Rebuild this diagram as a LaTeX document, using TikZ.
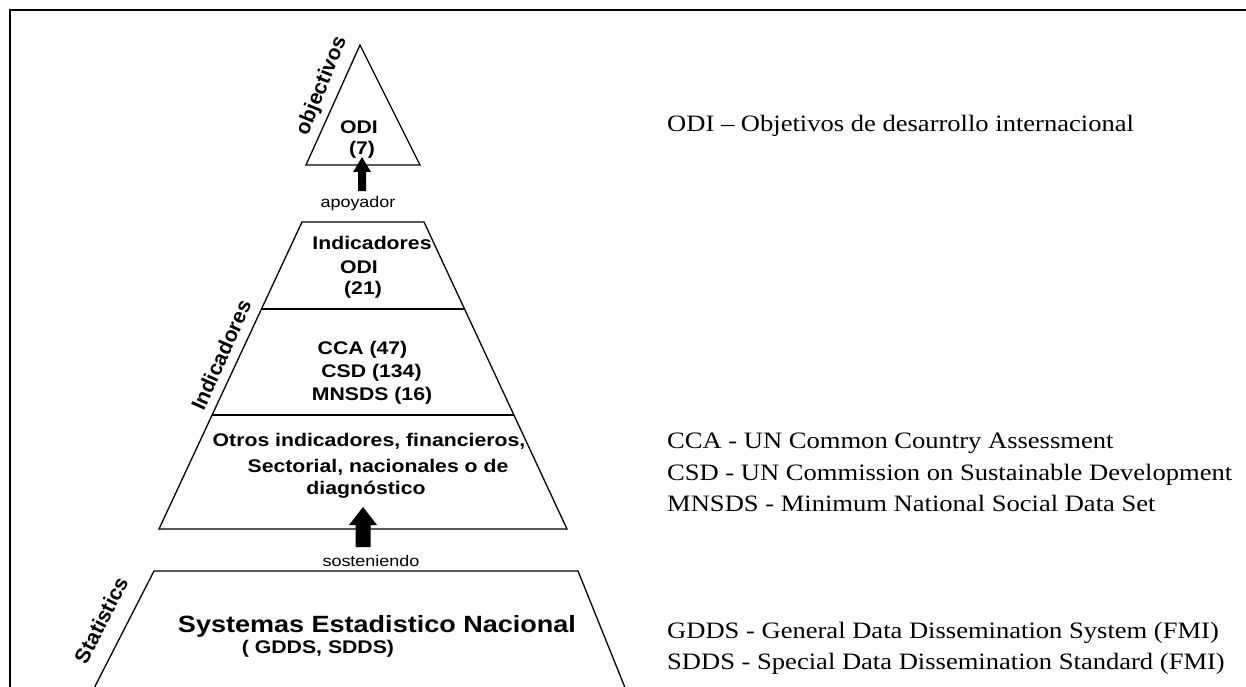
\documentclass[tikz,border=0pt]{standalone}
\usepackage{fontspec}
\setmainfont{Liberation Serif}
\setsansfont{Liberation Sans}
\usepackage{graphicx}
\usetikzlibrary{calc}
\newcommand{\sx}[1]{\scalebox{1.16}[1]{#1}}
\newcommand{\tx}[1]{\scalebox{1.13}[1]{#1}}
\begin{document}
\begin{tikzpicture}[x=1pt,y=-1pt,
  tier/.style={draw=black, line width=1.3pt, line join=miter},
  lbl/.style={font=\sffamily\bfseries\fontsize{18.3}{20}\selectfont, inner sep=0pt, anchor=base},
  big/.style={font=\sffamily\bfseries\fontsize{23.5}{26}\selectfont, inner sep=0pt, anchor=base},
  side/.style={font=\sffamily\bfseries\fontsize{21}{23}\selectfont, inner sep=0pt},
  note/.style={font=\rmfamily\fontsize{23.5}{27}\selectfont, inner sep=0pt, anchor=base west},
  small/.style={font=\sffamily\fontsize{15.5}{18}\selectfont, inner sep=0pt, anchor=base},
  blk/.style={fill=black, draw=none}]
\useasboundingbox (0,0) rectangle (1246,687);
\clip (0,0) rectangle (1246,687);
\fill[white] (0,0) rectangle (1246,687);
% frame
\draw[line width=2.6pt] (10,720) -- (10,10) -- (1270,10);
% top triangle
\coordinate (apex) at (360,45);
\coordinate (tl) at (306,165);
\coordinate (tr) at (420,165);
\draw[tier] (apex) -- (tr) -- (tl) -- cycle;
% middle trapezoid
\coordinate (m1) at (302,222);
\coordinate (m2) at (424,222);
\coordinate (m3) at (567,529);
\coordinate (m4) at (159,529);
\draw[tier] (m1) -- (m2) -- (m3) -- (m4) -- cycle;
\draw[tier] ($(m1)!0.2834!(m4)$) -- ($(m2)!0.2834!(m3)$);
\draw[tier] ($(m1)!0.6287!(m4)$) -- ($(m2)!0.6287!(m3)$);
% bottom trapezoid
\coordinate (b1) at (154,571);
\coordinate (b2) at (578,571);
\coordinate (b3) at (630,700);
\coordinate (b4) at (88,700);
\draw[tier] (b4) -- (b1) -- (b2) -- (b3);
% arrows
\coordinate (a1) at (362,157);
\fill[blk] (a1) -- ++(9,15) -- ++(-5,0) -- ++(0,19) -- ++(-8,0) -- ++(0,-19) -- ++(-5,0) -- cycle;
\coordinate (a2) at (363,507);
\fill[blk] (a2) -- ++(14,18) -- ++(-6.5,0) -- ++(0,22) -- ++(-15,0) -- ++(0,-22) -- ++(-6.5,0) -- cycle;
% labels pyramid
\node[side, rotate=68] (lobj) at (322,86) {objectivos};
\node[side, rotate=66] (lind) at (221,355) {Indicadores};
\node[side, rotate=63] (lsta) at (101,620) {Statistics};
\node[lbl] (odi) at (359,133.5) {\sx{ODI}};
\node[lbl] (odi7) at (362,155) {\sx{(7)}};
\node[small] (apo) at (358,207) {\sx{apoyador}};
\node[lbl] (ind1) at (372,249) {\sx{Indicadores}};
\node[lbl] (ind2) at (359,273) {\sx{ODI}};
\node[lbl] (ind3) at (363,294.5) {\sx{(21)}};
\node[lbl] (cca) at (362.5,354) {\sx{CCA (47)}};
\node[lbl] (csd) at (371.5,377) {\sx{CSD (134)}};
\node[lbl] (mns) at (372,400) {\sx{MNSDS (16)}};
\node[lbl] (ot1) at (369,446) {\sx{Otros indicadores, financieros,}};
\node[lbl] (ot2) at (378,472) {\sx{Sectorial, nacionales o de}};
\node[lbl] (ot3) at (366,494) {\sx{diagnóstico}};
\node[small] (sos) at (371,566) {\sx{sosteniendo}};
\node[big] (sen) at (377,632) {\scalebox{1.15}[1]{Systemas Estadistico Nacional}};
\node[lbl] (gs) at (318,653) {\sx{( GDDS, SDDS)}};
% notes
\node[note] (n1) at (667,132) {\tx{ODI – Objetivos de desarrollo internacional}};
\node[note] (n2) at (667,448) {\tx{CCA - UN Common Country Assessment}};
\node[note] (n3) at (667,480) {\tx{CSD - UN Commission on Sustainable Development}};
\node[note] (n4) at (667,511) {\tx{MNSDS - Minimum National Social Data Set}};
\node[note] (n5) at (667,638) {\tx{GDDS - General Data Dissemination System (FMI)}};
\node[note] (n6) at (667,669) {\tx{SDDS - Special Data Dissemination Standard (FMI)}};
\end{tikzpicture}
\end{document}
